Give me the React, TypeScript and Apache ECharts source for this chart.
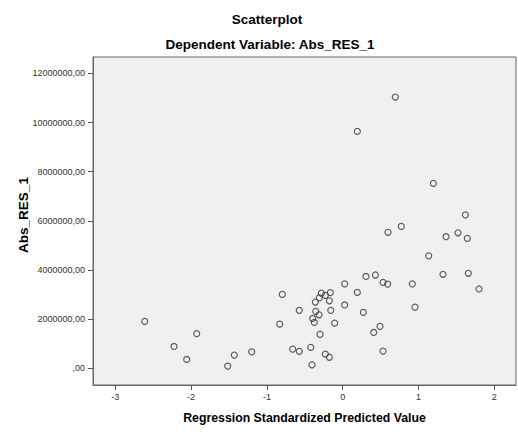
import React, { useEffect, useRef } from "react";
import * as echarts from "echarts";

const xTicks = [-3, -2, -1, 0, 1, 2];
const yTicks = [0, 2000000, 4000000, 6000000, 8000000, 10000000, 12000000];

const predicted = [
  0.694, 0.193, 1.196, 1.618, 0.773, 0.598, 1.363, 1.521, 1.644, 1.134,
  1.323, 1.657, 1.798, 0.918, 0.954, 0.593, 0.532, 0.431, 0.307, 0.026,
  0.193, 0.026, 0.272, 0.492, 0.409, 0.532, -0.163, -0.176, -0.282, -0.229,
  -0.309, -0.361, -0.158, -0.356, -0.312, -0.396, -0.375, -0.106, -0.573, -0.299,
  -0.422, -0.66, -0.573, -0.229, -0.176, -0.405, -0.797, -0.831, -2.612, -2.225,
  -2.058, -1.926, -1.517, -1.43, -1.201,
];
const absRes = [
  11040000, 9640000, 7520000, 6240000, 5770000, 5530000, 5350000, 5510000, 5280000, 4570000,
  3820000, 3860000, 3220000, 3430000, 2480000, 3420000, 3490000, 3790000, 3730000, 3430000,
  3080000, 2570000, 2270000, 1700000, 1450000, 690000, 3070000, 2740000, 3050000, 2960000,
  2860000, 2690000, 2350000, 2310000, 2170000, 2020000, 1860000, 1830000, 2350000, 1370000,
  840000, 770000, 680000, 570000, 440000, 130000, 3000000, 1790000, 1900000, 880000,
  350000, 1400000, 80000, 530000, 660000,
];

const FONT = "'Liberation Sans', Arial, sans-serif";

export default function App() {
  const ref = useRef<HTMLDivElement>(null);
  useEffect(() => {
    const chart = echarts.init(ref.current!, null, { renderer: "svg" });
    chart.setOption({
      animation: false,
      backgroundColor: "#ffffff",
      title: [
        {
          text: "Scatterplot",
          left: 262,
          textAlign: "center",
          top: 7,
          textStyle: { fontFamily: FONT, fontSize: 13.5, fontWeight: "bold", color: "#000" },
        },
        {
          text: "Dependent Variable: Abs_RES_1",
          left: 265,
          textAlign: "center",
          top: 32,
          textStyle: { fontFamily: FONT, fontSize: 13.5, fontWeight: "bold", color: "#000" },
        },
      ],
      grid: {
        left: 93,
        right: 2,
        top: 57,
        bottom: 54,
        show: true,
        backgroundColor: "#f0f0f0",
        borderColor: "#666",
        borderWidth: 1,
      },
      xAxis: {
        type: "value",
        min: -3.294,
        max: 2.286,
        name: "Regression Standardized Predicted Value",
        nameLocation: "middle",
        nameGap: 27,
        nameTextStyle: { fontFamily: FONT, fontSize: 12.3, fontWeight: "bold", color: "#000" },
        axisLine: { show: true, onZero: false, lineStyle: { color: "#666" } },
        axisTick: { show: true, customValues: xTicks, length: 5, lineStyle: { color: "#555" } },
        axisLabel: {
          customValues: xTicks,
          fontFamily: FONT,
          fontSize: 9,
          color: "#333",
          margin: 7,
        },
        splitLine: { show: false },
      },
      yAxis: {
        type: "value",
        min: -690000,
        max: 12670000,
        axisLine: { show: true, onZero: false, lineStyle: { color: "#666" } },
        axisTick: { show: true, customValues: yTicks, length: 5, lineStyle: { color: "#555" } },
        axisLabel: {
          customValues: yTicks,
          fontFamily: FONT,
          fontSize: 9,
          color: "#333",
          margin: 8,
          formatter: (v: number) => (v === 0 ? ",00" : `${v},00`),
        },
        splitLine: { show: false },
      },
      graphic: [
        {
          type: "text",
          x: 23,
          y: 215,
          rotation: Math.PI / 2,
          style: {
            text: "Abs_RES_1",
            font: `bold 13.5px ${FONT}`,
            fill: "#000",
            textAlign: "center",
            textVerticalAlign: "middle",
          },
        },
      ],
      series: [
        {
          type: "scatter",
          symbol: "circle",
          symbolSize: 6,
          data: predicted.map((x, i) => [x, absRes[i]]),
          itemStyle: { color: "rgba(0,0,0,0)", borderColor: "#3a3a3a", borderWidth: 1.2 },
        },
      ],
    });
    return () => chart.dispose();
  }, []);
  return (
    <div
      ref={ref}
      style={{ position: "absolute", left: 0, top: 0, width: 518, height: 439 }}
    />
  );
}
